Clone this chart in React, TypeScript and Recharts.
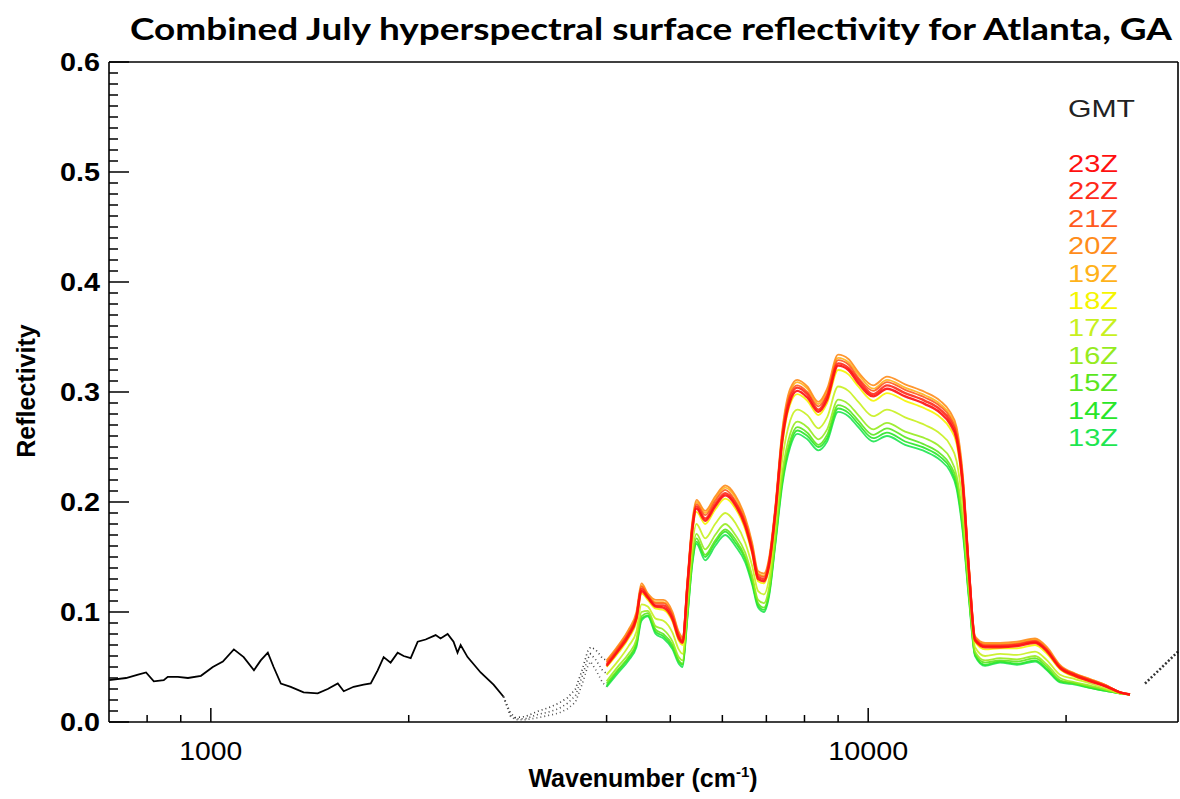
import React from 'react';
import { LineChart, Line, XAxis, YAxis } from 'recharts';

// Reflectividad (wavenumber en cm-1)
const IR_WN = [700, 743, 775, 797, 819, 848, 860, 891, 923, 966, 1007, 1043, 1084, 1122, 1163, 1191, 1221, 1246, 1278, 1323, 1384, 1454, 1506, 1560, 1593, 1649, 1708, 1751, 1794, 1832, 1877, 1924, 1965, 2014, 2064, 2122, 2198, 2236, 2292, 2340, 2373, 2399, 2458, 2573, 2692, 2788];
const IR_REFL = [0.038, 0.040, 0.043, 0.045, 0.037, 0.038, 0.041, 0.041, 0.040, 0.042, 0.050, 0.055, 0.066, 0.059, 0.047, 0.056, 0.063, 0.050, 0.035, 0.032, 0.027, 0.026, 0.030, 0.035, 0.028, 0.032, 0.034, 0.035, 0.047, 0.059, 0.054, 0.063, 0.060, 0.058, 0.073, 0.075, 0.079, 0.076, 0.080, 0.073, 0.063, 0.070, 0.059, 0.045, 0.034, 0.023];

const GAP_WN = [2788, 2857, 2908, 3011, 3151, 3264, 3381, 3488, 3587, 3675, 3741, 3780, 3847, 3942, 4000];
const GAP_HI = [0.023, 0.008, 0.004, 0.005, 0.010, 0.013, 0.017, 0.022, 0.030, 0.048, 0.064, 0.068, 0.066, 0.058, 0.056];
const GAP_MID = [0.023, 0.006, 0.003, 0.003, 0.007, 0.009, 0.012, 0.017, 0.024, 0.042, 0.057, 0.062, 0.057, 0.047, 0.044];
const GAP_LO = [0.023, 0.005, 0.002, 0.002, 0.004, 0.006, 0.008, 0.012, 0.018, 0.035, 0.050, 0.055, 0.048, 0.036, 0.032];

const TAIL_WN = [26370, 27900, 29600];
const TAIL_REFL = [0.035, 0.049, 0.064];

const VIS_WN = [4000, 4170, 4320, 4440, 4520, 4620, 4750, 4880, 5040, 5150, 5220, 5310, 5400, 5480, 5650, 5850, 6060, 6280, 6500, 6660, 6800, 6940, 7070, 7220, 7400, 7610, 7800, 8080, 8400, 8660, 9000, 9330, 9660, 10180, 10680, 11380, 12200, 12870, 13320, 13630, 13930, 14240, 14540, 15060, 15870, 16840, 17940, 18710, 19580, 20630, 21750, 23080, 24150, 25020];

const R23 = [
  0.051, 0.065, 0.078, 0.094, 0.119, 0.113, 0.105, 0.104, 0.093, 0.076,
  0.072, 0.123, 0.174, 0.194, 0.183, 0.196, 0.206, 0.197, 0.178, 0.155,
  0.130, 0.128, 0.143, 0.188, 0.255, 0.292, 0.301, 0.295, 0.282, 0.293,
  0.324, 0.320, 0.308, 0.296, 0.303, 0.296, 0.289, 0.281, 0.271, 0.257,
  0.214, 0.134, 0.074, 0.068, 0.068, 0.069, 0.072, 0.064, 0.049, 0.042,
  0.037, 0.032, 0.027, 0.025];
const R22 = [
  0.052, 0.066, 0.080, 0.095, 0.121, 0.114, 0.106, 0.106, 0.095, 0.078,
  0.073, 0.125, 0.176, 0.196, 0.185, 0.198, 0.208, 0.199, 0.180, 0.157,
  0.132, 0.130, 0.145, 0.190, 0.258, 0.295, 0.304, 0.298, 0.284, 0.296,
  0.326, 0.322, 0.311, 0.298, 0.306, 0.299, 0.292, 0.284, 0.274, 0.260,
  0.217, 0.136, 0.075, 0.069, 0.069, 0.070, 0.073, 0.065, 0.050, 0.043,
  0.038, 0.032, 0.027, 0.025];
const R21 = [
  0.054, 0.068, 0.081, 0.097, 0.123, 0.115, 0.108, 0.108, 0.097, 0.079,
  0.074, 0.127, 0.178, 0.198, 0.188, 0.201, 0.211, 0.201, 0.182, 0.159,
  0.134, 0.132, 0.147, 0.192, 0.260, 0.298, 0.306, 0.300, 0.287, 0.298,
  0.329, 0.325, 0.313, 0.301, 0.309, 0.302, 0.295, 0.287, 0.277, 0.262,
  0.220, 0.137, 0.076, 0.070, 0.070, 0.071, 0.074, 0.066, 0.050, 0.043,
  0.038, 0.033, 0.027, 0.025];
const R20 = [
  0.056, 0.070, 0.084, 0.100, 0.126, 0.117, 0.111, 0.111, 0.100, 0.082,
  0.077, 0.130, 0.182, 0.202, 0.192, 0.205, 0.215, 0.206, 0.186, 0.163,
  0.137, 0.135, 0.150, 0.195, 0.265, 0.303, 0.311, 0.305, 0.291, 0.303,
  0.334, 0.330, 0.318, 0.306, 0.314, 0.307, 0.300, 0.292, 0.282, 0.268,
  0.225, 0.140, 0.078, 0.072, 0.072, 0.073, 0.076, 0.068, 0.052, 0.044,
  0.039, 0.033, 0.027, 0.025];
const R19 = [
  0.055, 0.069, 0.083, 0.098, 0.124, 0.116, 0.109, 0.109, 0.098, 0.081,
  0.076, 0.128, 0.180, 0.200, 0.190, 0.203, 0.213, 0.204, 0.184, 0.161,
  0.135, 0.133, 0.148, 0.193, 0.263, 0.300, 0.309, 0.303, 0.289, 0.301,
  0.331, 0.327, 0.316, 0.303, 0.311, 0.304, 0.297, 0.289, 0.279, 0.265,
  0.222, 0.139, 0.077, 0.071, 0.071, 0.072, 0.075, 0.067, 0.051, 0.044,
  0.039, 0.033, 0.027, 0.025];
const R18 = [
  0.050, 0.063, 0.076, 0.091, 0.117, 0.111, 0.103, 0.102, 0.091, 0.074,
  0.070, 0.121, 0.172, 0.191, 0.180, 0.193, 0.203, 0.194, 0.175, 0.153,
  0.128, 0.126, 0.141, 0.186, 0.252, 0.289, 0.298, 0.292, 0.279, 0.290,
  0.320, 0.316, 0.305, 0.292, 0.299, 0.292, 0.285, 0.277, 0.267, 0.253,
  0.211, 0.132, 0.073, 0.066, 0.067, 0.067, 0.070, 0.062, 0.048, 0.041,
  0.037, 0.032, 0.027, 0.025];
const R17 = [
  0.043, 0.056, 0.069, 0.082, 0.107, 0.105, 0.094, 0.092, 0.081, 0.066,
  0.062, 0.111, 0.161, 0.180, 0.167, 0.180, 0.190, 0.181, 0.163, 0.142,
  0.119, 0.116, 0.131, 0.176, 0.238, 0.274, 0.284, 0.279, 0.267, 0.277,
  0.305, 0.301, 0.291, 0.278, 0.284, 0.277, 0.270, 0.262, 0.252, 0.237,
  0.196, 0.124, 0.068, 0.060, 0.062, 0.061, 0.064, 0.056, 0.043, 0.039,
  0.035, 0.030, 0.026, 0.025];
const R16 = [
  0.037, 0.051, 0.062, 0.075, 0.100, 0.101, 0.087, 0.084, 0.073, 0.059,
  0.056, 0.103, 0.152, 0.171, 0.157, 0.170, 0.180, 0.170, 0.154, 0.133,
  0.111, 0.108, 0.123, 0.168, 0.226, 0.262, 0.273, 0.268, 0.257, 0.266,
  0.293, 0.289, 0.279, 0.266, 0.272, 0.264, 0.258, 0.250, 0.240, 0.224,
  0.184, 0.117, 0.064, 0.056, 0.058, 0.057, 0.060, 0.052, 0.040, 0.036,
  0.033, 0.029, 0.026, 0.025];
const R15 = [
  0.035, 0.048, 0.059, 0.072, 0.096, 0.099, 0.084, 0.080, 0.070, 0.056,
  0.053, 0.099, 0.148, 0.167, 0.152, 0.165, 0.175, 0.166, 0.150, 0.130,
  0.108, 0.104, 0.119, 0.164, 0.221, 0.256, 0.268, 0.263, 0.252, 0.261,
  0.288, 0.284, 0.274, 0.261, 0.267, 0.259, 0.252, 0.244, 0.234, 0.219,
  0.178, 0.114, 0.062, 0.054, 0.056, 0.055, 0.058, 0.050, 0.038, 0.035,
  0.032, 0.029, 0.026, 0.025];
const R14 = [
  0.033, 0.047, 0.058, 0.070, 0.094, 0.097, 0.082, 0.078, 0.068, 0.055,
  0.052, 0.097, 0.145, 0.164, 0.150, 0.163, 0.173, 0.163, 0.148, 0.127,
  0.106, 0.102, 0.117, 0.162, 0.218, 0.253, 0.265, 0.260, 0.250, 0.258,
  0.285, 0.281, 0.271, 0.258, 0.263, 0.255, 0.249, 0.241, 0.231, 0.215,
  0.175, 0.112, 0.061, 0.052, 0.055, 0.053, 0.056, 0.048, 0.037, 0.035,
  0.031, 0.028, 0.026, 0.025];
const R13 = [
  0.032, 0.045, 0.056, 0.068, 0.092, 0.096, 0.080, 0.076, 0.066, 0.053,
  0.050, 0.095, 0.143, 0.162, 0.147, 0.160, 0.170, 0.160, 0.145, 0.125,
  0.104, 0.100, 0.115, 0.160, 0.215, 0.250, 0.262, 0.257, 0.247, 0.255,
  0.282, 0.278, 0.268, 0.255, 0.260, 0.252, 0.246, 0.238, 0.228, 0.212,
  0.172, 0.110, 0.060, 0.051, 0.054, 0.052, 0.055, 0.047, 0.036, 0.034,
  0.031, 0.028, 0.026, 0.025];

// horas GMT, de arriba hacia abajo como en la leyenda
const HOURS = ['23Z', '22Z', '21Z', '20Z', '19Z', '18Z', '17Z', '16Z', '15Z', '14Z', '13Z'];
const HOUR_VALUES = [R23, R22, R21, R20, R19, R18, R17, R16, R15, R14, R13];
const HOUR_COLORS = ['#ff1010', '#ff2a1a', '#ff5a1e', '#ff8c1a', '#ffb21a', '#f5f500', '#c8f01e', '#96eb1e', '#5ae61e', '#28e628', '#1ee650'];

const X_TICKS = [800, 900, 1000, 2000, 4000, 5000, 6000, 7000, 8000, 9000, 10000, 20000];
const X_LABELS = [1000, 10000];
const Y_LABELS = [0, 0.1, 0.2, 0.3, 0.4, 0.5, 0.6];
const Y_TICKS = Array.from({ length: 61 }, (_, i) => i / 100);

const FONT = '"Liberation Sans", Arial, sans-serif';

const pts = (wn: number[], r: number[]) => wn.map((w, i) => ({ wn: w, r: r[i] }));
const isMajorY = (v: number) => Math.round(v * 100) % 10 === 0;

// marcas de graduación hacia dentro
function BottomTick(props: any) {
  const x = Number(props.x);
  const y = Number(props.y);
  const v = props.payload.value;
  const major = X_LABELS.includes(v);
  const len = major ? 14 : 7;
  return (
    <g>
      <rect x={x - 0.75} y={y - len} width={1.5} height={len} fill="#000" stroke="none" />
      {major && (
        <text x={x} y={y + 38} textAnchor="middle" fontFamily={FONT} fontSize={25}
          textLength={v === 1000 ? 63 : 80} lengthAdjust="spacingAndGlyphs" fill="#000" stroke="none">
          {v}
        </text>
      )}
    </g>
  );
}

function TopTick(props: any) {
  const x = Number(props.x);
  const y = Number(props.y);
  const len = X_LABELS.includes(props.payload.value) ? 14 : 8;
  return <rect x={x - 0.75} y={y} width={1.5} height={len} fill="#000" stroke="none" />;
}

function LeftTick(props: any) {
  const x = Number(props.x);
  const y = Number(props.y);
  const v = props.payload.value;
  const major = isMajorY(v);
  const len = major ? 20 : 9;
  return (
    <g>
      <rect x={x} y={y - 0.75} width={len} height={1.5} fill="#000" stroke="none" />
      {major && Y_LABELS.some((l) => Math.abs(l - v) < 1e-6) && (
        <text x={x - 9} y={y + 9} textAnchor="end" fontFamily={FONT} fontWeight="bold" fontSize={25}
          textLength={40} lengthAdjust="spacingAndGlyphs" fill="#000" stroke="none">
          {v.toFixed(1)}
        </text>
      )}
    </g>
  );
}

function RightTick(props: any) {
  const x = Number(props.x);
  const y = Number(props.y);
  const len = isMajorY(props.payload.value) ? 17 : 7;
  return <rect x={x - len} y={y - 0.75} width={len} height={1.5} fill="#000" stroke="none" />;
}

export default function App() {
  const hourOrder = HOURS.map((h, i) => i).reverse();
  return (
    <div style={{ position: 'absolute', left: 0, top: 0, width: 1180, height: 799, background: '#fff' }}>
      <LineChart width={1180} height={799} margin={{ top: 0, right: 0, bottom: 0, left: 0 }}>
        <XAxis dataKey="wn" type="number" scale="log" domain={[700, 29600]}
          ticks={X_TICKS} interval={0} tickLine={false} tickSize={0} tickMargin={0} tick={BottomTick}
          height={77} stroke="#000" strokeWidth={1.6} />
        <XAxis xAxisId="top" orientation="top" dataKey="wn" type="number" scale="log" domain={[700, 29600]}
          ticks={X_TICKS} interval={0} tickLine={false} tickSize={0} tickMargin={0} tick={TopTick}
          height={62} stroke="#000" strokeWidth={1.6} />
        <YAxis type="number" domain={[0, 0.6]} ticks={Y_TICKS} interval={0}
          tickLine={false} tickSize={0} tickMargin={0} tick={LeftTick} width={109} stroke="#000" strokeWidth={1.6} />
        <YAxis yAxisId="right" orientation="right" type="number" domain={[0, 0.6]}
          ticks={Y_TICKS} interval={0} tickLine={false} tickSize={0} tickMargin={0} tick={RightTick} width={2}
          stroke="#000" strokeWidth={1.6} />

        <Line data={pts(IR_WN, IR_REFL)} dataKey="r" stroke="#000" strokeWidth={1.8} dot={false} isAnimationActive={false} />
        <Line data={pts(GAP_WN, GAP_HI)} dataKey="r" stroke="#333" strokeWidth={1.6} strokeDasharray="1 3" dot={false} isAnimationActive={false} />
        <Line data={pts(GAP_WN, GAP_MID)} dataKey="r" stroke="#444" strokeWidth={1.6} strokeDasharray="1 3" dot={false} isAnimationActive={false} />
        <Line data={pts(GAP_WN, GAP_LO)} dataKey="r" stroke="#555" strokeWidth={1.6} strokeDasharray="1 3" dot={false} isAnimationActive={false} />
        <Line data={pts(TAIL_WN, TAIL_REFL)} dataKey="r" stroke="#333" strokeWidth={2.5} strokeDasharray="2 2" dot={false} isAnimationActive={false} />

        {hourOrder.map((i) => (
          <Line key={HOURS[i]} name={HOURS[i]} data={pts(VIS_WN, HOUR_VALUES[i])} dataKey="r" type="monotone"
            stroke={HOUR_COLORS[i]} strokeWidth={i < 2 ? 2.4 : 1.8} strokeOpacity={0.9} dot={false} activeDot={false}
            isAnimationActive={false} />
        ))}
      </LineChart>

      <svg width={1180} height={799} style={{ position: 'absolute', left: 0, top: 0, pointerEvents: 'none' }}>
        <text x={130} y={40} fontFamily='Lato, "Open Sans", sans-serif' fontWeight="bold" fontSize={31}
          textLength={1042} lengthAdjust="spacingAndGlyphs" fill="#000">
          Combined July hyperspectral surface reflectivity for Atlanta, GA
        </text>
        <text transform="rotate(-90 35 391)" x={35} y={391} textAnchor="middle" fontFamily={FONT}
          fontWeight="bold" fontSize={25} fill="#000">
          Reflectivity
        </text>
        <text x={643} y={787} textAnchor="middle" fontFamily={FONT} fontWeight="bold" fontSize={25} fill="#000">
          Wavenumber (cm<tspan fontSize={15} dy={-10}>-1</tspan><tspan dy={10}>)</tspan>
        </text>
        <text x={1068} y={117} fontFamily={FONT} fontSize={24} textLength={67} lengthAdjust="spacingAndGlyphs" fill="#222">
          GMT
        </text>
        {HOURS.map((h, i) => (
          <text key={h} x={1068} y={172 + i * 27.4} fontFamily={FONT} fontSize={24} textLength={50}
            lengthAdjust="spacingAndGlyphs" fill={HOUR_COLORS[i]}>
            {h}
          </text>
        ))}
      </svg>
    </div>
  );
}
